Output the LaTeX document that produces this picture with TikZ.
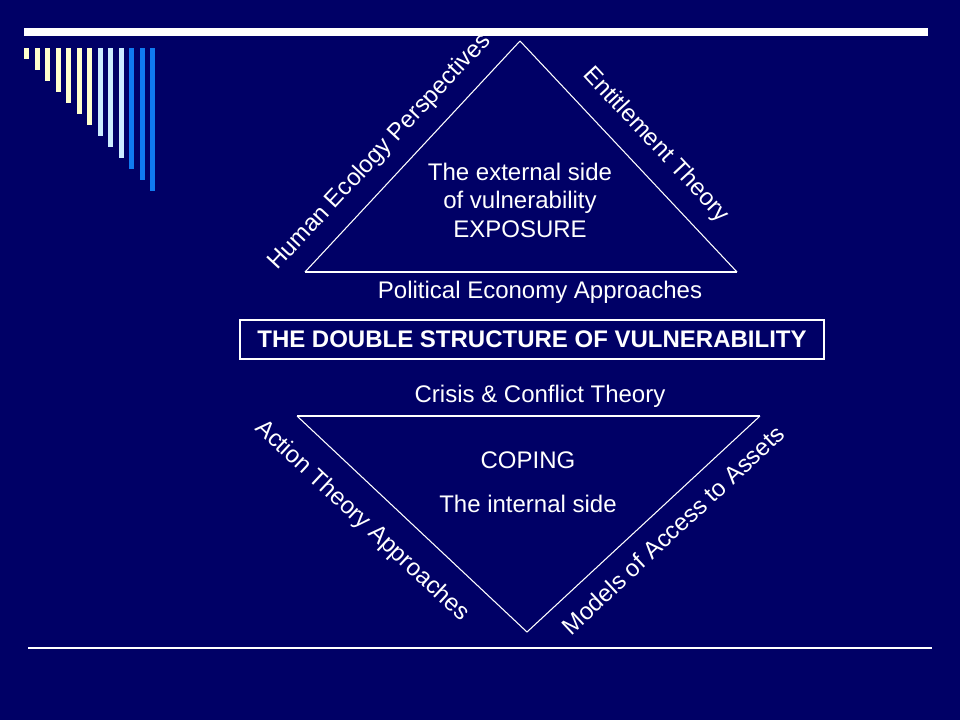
\documentclass[tikz,border=0pt]{standalone}
\usepackage{fontspec}
\setmainfont{Liberation Sans}
\definecolor{slidebg}{RGB}{0,0,102}
\definecolor{barcream}{RGB}{255,255,204}
\definecolor{barpale}{RGB}{204,236,255}
\definecolor{barblue}{RGB}{16,122,240}

\begin{document}
\begin{tikzpicture}[x=0.75pt, y=-0.75pt,
    label/.style={text=white, font=\fontsize{18}{22}\selectfont, inner sep=0pt},
    side/.style={white, line width=0.8pt}]
  \filldraw[fill=slidebg, draw=none] (0,0) rectangle (960,720);
  % top rule and bars
  \fill[white] (24,28) rectangle (928,36);
  \foreach \i in {0,...,12} {
    \ifnum\i<7 \def\barcol{barcream}\else\ifnum\i<10 \def\barcol{barpale}\else\def\barcol{barblue}\fi\fi
    \fill[\barcol] ({24+10.5*\i},48) rectangle ({29+10.5*\i},{59+11*\i});
  }
  \draw[white, line width=0.8pt] (28,648) -- (932,648);
  % upper triangle
  \coordinate (TA) at (520,41);
  \coordinate (TL) at (305,272);
  \coordinate (TR) at (737,272);
  \draw[side] (TL) -- (TA);
  \draw[side] (TA) -- (TR);
  \draw[side] (TL) -- (TR);
  \node[text=white, align=center, font=\fontsize{18}{21.4}\selectfont] (ext) at (520,200)
    {The external side\\of vulnerability\\EXPOSURE};
  \node[label, rotate=47] (hum) at (380,152) {Human Ecology Perspectives};
  \node[label, rotate=-47] (ent) at (656,145) {Entitlement Theory};
  \node[label] (pol) at (540,292) {Political Economy Approaches};
  % title box
  \node[draw=white, line width=0.8pt, text=white, font=\bfseries\fontsize{18}{22}\selectfont,
    minimum width=584*0.75pt, minimum height=39*0.75pt] (title) at (532,339.5)
    {THE DOUBLE STRUCTURE OF VULNERABILITY};
  % lower triangle
  \coordinate (BL) at (297,416);
  \coordinate (BR) at (760,416);
  \coordinate (BA) at (527,632);
  \draw[side] (BL) -- (BR);
  \draw[side] (BL) -- (BA);
  \draw[side] (BA) -- (BR);
  \node[label] (cri) at (540,396) {Crisis \& Conflict Theory};
  \node[label] (cop) at (528,460) {COPING};
  \node[label] (int) at (528,504) {The internal side};
  \node[label, rotate=-43] (act) at (362,521) {Action Theory Approaches};
  \node[label, rotate=43] (mod) at (673,530) {Models of Access to Assets};
\end{tikzpicture}
\end{document}
